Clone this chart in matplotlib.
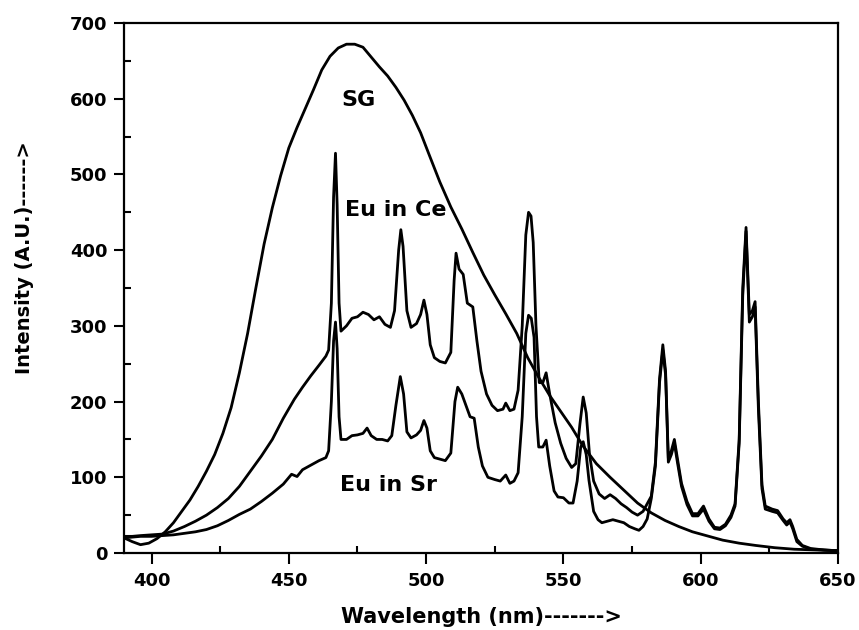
"""
Emission spectra: SG host vs Eu doped in Ce / Sr
"""

import matplotlib
matplotlib.use('Agg')
import matplotlib.pyplot as plt
from matplotlib.ticker import MultipleLocator

# ---- data ----
sg_wl = [390, 393, 396, 399, 402, 405, 408, 411, 414, 417,
         420, 423, 426, 429, 432, 435, 438, 441, 444, 447,
         450, 453, 456, 459, 462, 465, 468, 471, 474, 477,
         480, 483, 486, 489, 492, 495, 498, 501, 505, 509,
         513, 517, 521, 525, 529, 533, 537, 541, 545, 549,
         553, 557, 562, 567, 572, 577, 582, 587, 592, 597,
         602, 608, 614, 620, 627, 634, 642, 650]
sg_int = [20, 15, 11, 13, 19, 28, 40, 55, 70, 88,
          108, 130, 158, 192, 238, 290, 350, 408, 456, 498,
          535, 562, 587, 612, 638, 656, 667, 672, 672, 668,
          655, 642, 630, 615, 598, 578, 555, 527, 490, 457,
          428, 397, 367, 341, 316, 290, 258, 232, 208, 187,
          166, 142, 118, 100, 83, 66, 53, 43, 35, 28,
          23, 17, 13, 10, 7, 5, 4, 3]

ce_wl = [390, 393, 396, 400, 404, 408, 412, 416, 420, 424,
         428, 432, 436, 440, 444, 448, 452, 455, 458, 461,
         463.5, 464.5, 465.5, 466.3, 467, 467.6, 468.3, 469, 471, 473,
         475, 477, 479, 481, 483, 485, 487, 488.5, 490, 490.8,
         491.6, 493, 494.5, 496.5, 498, 499.2, 500.3, 501.5, 503, 505,
         507, 509, 510.2, 510.9, 512, 513.5, 515, 517, 518.5, 520,
         522, 524, 526, 528, 529, 530.5, 532, 533.5, 535, 536.3,
         537.3, 538.2, 539, 540, 541.2, 542.5, 543.7, 545, 547, 549,
         551, 553, 554.5, 556, 557.2, 558.3, 559.5, 561, 563, 565,
         567, 569, 571, 573, 575, 577, 579, 580.5, 582, 583.5,
         585, 586.2, 587.2, 588.2, 589.3, 590.4, 591.5, 593, 595, 597,
         599, 601, 603, 605, 607, 609, 611, 612.5, 614, 615.3,
         616.5, 617.7, 618.8, 619.8, 621, 622.3, 623.5, 626, 628, 630,
         631.3, 632.5, 633.5, 635, 637, 640, 645, 650]
ce_int = [22, 22, 23, 24, 25, 29, 35, 42, 50, 60,
          72, 88, 108, 128, 150, 178, 203, 219, 234, 248,
          260, 268, 330, 470, 528, 460, 330, 293, 300, 310,
          312, 318, 315, 308, 312, 302, 298, 320, 400, 427,
          405, 320, 298, 303, 315, 334, 315, 275, 258, 253,
          251, 265, 360, 396, 375, 368, 330, 325, 280, 240,
          210, 195, 188, 190, 198, 188, 190, 215, 300, 420,
          450, 445, 410, 300, 225, 225, 238, 210, 172, 145,
          125, 113, 118, 170, 206, 185, 130, 95, 78, 72,
          77, 72, 65, 60, 54, 50, 55, 65, 75, 120,
          230, 275, 240, 125, 135, 150, 125, 92, 68, 52,
          52, 62, 45, 34, 33, 38, 50, 65, 150, 350,
          430, 315, 320, 332, 200, 90, 62, 58, 56, 45,
          40, 44, 35, 18, 10, 6, 4, 3]

sr_wl = [390, 393, 396, 400, 404, 408, 412, 416, 420, 424,
         428, 432, 436, 440, 444, 448, 451, 453, 455, 458,
         461, 463.5, 464.5, 465.5, 466.3, 467, 467.6, 468.3, 469, 471,
         473, 475, 477, 478.5, 480, 482, 484, 486, 487.5, 489,
         490.6, 491.8, 493, 494.5, 496.5, 498, 499.2, 500.3, 501.5, 503,
         505, 507, 509, 510.5, 511.5, 513, 514.5, 516, 517.5, 519,
         520.5, 522.5, 525, 527, 529, 530.5, 532, 533.5, 535, 536.3,
         537.3, 538.3, 539.3, 540.2, 541, 542.5, 543.7, 545, 546.6, 548,
         550, 552, 553.5, 555, 556.3, 557.2, 558.3, 559.3, 561, 562.6,
         564, 566, 568, 570, 572, 574, 576, 577.5, 579, 580.5,
         582, 583.5, 585, 586.2, 587.2, 588.2, 589.3, 590.4, 591.5, 593,
         595, 597, 599, 601, 603, 605, 607, 609, 611, 612.5,
         614, 615.3, 616.5, 617.7, 618.8, 619.8, 621, 622.3, 623.5, 626,
         628, 630, 631.3, 632.5, 633.5, 635, 637, 640, 645, 650]
sr_int = [20, 21, 22, 22, 23, 24, 26, 28, 31, 36,
          43, 51, 58, 68, 79, 91, 104, 101, 110, 116,
          122, 126, 135, 200, 280, 305, 270, 180, 150, 150,
          155, 156, 158, 165, 155, 150, 150, 148, 155, 195,
          233, 210, 160, 152, 156, 162, 175, 165, 135, 126,
          124, 122, 132, 200, 219, 210, 195, 180, 178, 140,
          115, 100, 97, 95, 103, 92, 95, 106, 180, 290,
          314, 310, 285, 180, 140, 140, 149, 115, 82, 74,
          73, 66, 66, 95, 140, 147, 130, 96, 55, 44,
          40, 42, 44, 42, 40, 35, 32, 30, 35, 45,
          72, 115, 225, 268, 235, 120, 130, 145, 120, 88,
          64, 49, 49, 58, 42, 32, 31, 36, 47, 62,
          145, 340, 425, 305, 312, 325, 190, 85, 58, 55,
          53, 43, 37, 41, 32, 15, 9, 5, 4, 3]

x_ticks = [400, 450, 500, 550, 600, 650]
y_ticks = [0, 100, 200, 300, 400, 500, 600, 700]

plt.rcParams['font.family'] = ['DejaVu Sans']
plt.rcParams['font.weight'] = 'bold'

fig = plt.figure(figsize=(8.59, 6.30), dpi=100)
ax = fig.add_axes([0.1444, 0.1222, 0.8312, 0.8413])

for wl, inten in [(sg_wl, sg_int), (ce_wl, ce_int), (sr_wl, sr_int)]:
    ax.plot(wl, inten, color='black', linewidth=2.0, solid_joinstyle='round')

ax.text(475.4, 598, 'SG', fontsize=16, fontweight='bold', ha='center', va='center')
ax.text(470.5, 453, 'Eu in Ce', fontsize=16, fontweight='bold', ha='left', va='center')
ax.text(468.8, 90, 'Eu in Sr', fontsize=16, fontweight='bold', ha='left', va='center')

ax.set_xlim(390, 650)
ax.set_ylim(0, 700)
ax.set_xticks(x_ticks)
ax.set_yticks(y_ticks)
ax.xaxis.set_minor_locator(MultipleLocator(25))
ax.yaxis.set_minor_locator(MultipleLocator(50))
ax.tick_params(axis='x', which='major', direction='out', length=8, width=1.5,
               labelsize=13, pad=6)
ax.tick_params(axis='y', which='major', direction='out', length=7, width=1.5,
               labelsize=13, pad=5)
ax.tick_params(which='minor', direction='in', length=5, width=1.5)
for lbl in ax.get_xticklabels() + ax.get_yticklabels():
    lbl.set_fontweight('bold')
for sp in ax.spines.values():
    sp.set_linewidth(1.6)

ax.set_xlabel('Wavelength (nm)------->', fontsize=15, fontweight='bold')
ax.set_ylabel('Intensity (A.U.)------>', fontsize=14, fontweight='bold')
ax.xaxis.set_label_coords(0.5, -0.102)
ax.yaxis.set_label_coords(-0.126, 0.558)

plt.savefig('out.png', dpi=100)
plt.close()
